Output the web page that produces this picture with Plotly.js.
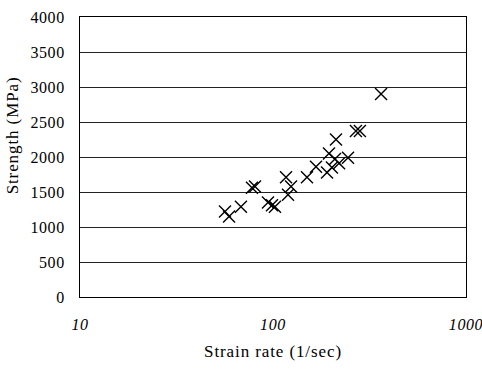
<!DOCTYPE html>
<html><head><meta charset="utf-8">
<script src="https://cdn.plot.ly/plotly-3.0.1.min.js"></script>
<style>body{margin:0;background:#fff}#c{width:482px;height:372px}
#c .xtitle,#c .annotation-text{letter-spacing:0.9px}
#c .xtick text,#c .ytick text{letter-spacing:0.6px}</style>
</head><body><div id="c"></div>
<script>
const strainRate = [56.4, 59.2, 68.2, 77.8, 80.7, 94.2, 98.8, 102.4, 116.8, 124, 119.6, 150, 167, 190.5, 202, 195, 209.5, 220, 244.7, 212, 269, 282, 363];
const strength   = [1220, 1150, 1290, 1560, 1580, 1350, 1310, 1290, 1710, 1580, 1460, 1710, 1860, 1780, 1850, 2050, 1970, 1910, 1990, 2250, 2370, 2370, 2900];
const xTickVals = [10, 100, 1000];
const xTickText = ['10', '100', '1000'];
const yTickVals = [0, 500, 1000, 1500, 2000, 2500, 3000, 3500, 4000];

const serif = 'Liberation Serif, Times New Roman, serif';
Plotly.newPlot('c', [{
  x: strainRate, y: strength, type: 'scatter', mode: 'markers',
  marker: {symbol: 'x-thin', size: 12, color: '#000', line: {color: '#000', width: 1.4}},
  hoverinfo: 'skip'
}], {
  width: 482, height: 372,
  margin: {l: 80, r: 16, t: 17, b: 75},
  paper_bgcolor: '#fff', plot_bgcolor: '#fff',
  showlegend: false,
  xaxis: {
    type: 'log', range: [1, 3],
    tickvals: xTickVals, ticktext: xTickText,
    showgrid: false, zeroline: false,
    showline: true, mirror: true, linecolor: '#000', linewidth: 1,
    ticks: '', ticklabelstandoff: 13,
    tickfont: {family: serif, size: 16, color: '#000', style: 'italic'},
    title: {text: 'Strain rate (1/sec)', font: {family: serif, size: 17, color: '#000'}, standoff: 12}
  },
  yaxis: {
    range: [0, 4000], tickvals: yTickVals,
    showgrid: true, gridcolor: '#222', gridwidth: 1,
    zeroline: false,
    showline: true, mirror: true, linecolor: '#000', linewidth: 1,
    ticks: '', ticklabelstandoff: 11,
    tickfont: {family: serif, size: 16, color: '#000'}
  },
  annotations: [{
    text: 'Strength (MPa)', textangle: -90, showarrow: false,
    xref: 'paper', yref: 'paper', x: -0.176, y: 0.575,
    xanchor: 'center', yanchor: 'middle',
    font: {family: serif, size: 17, color: '#000'}
  }]
}, {displayModeBar: false, staticPlot: true});
</script></body></html>
